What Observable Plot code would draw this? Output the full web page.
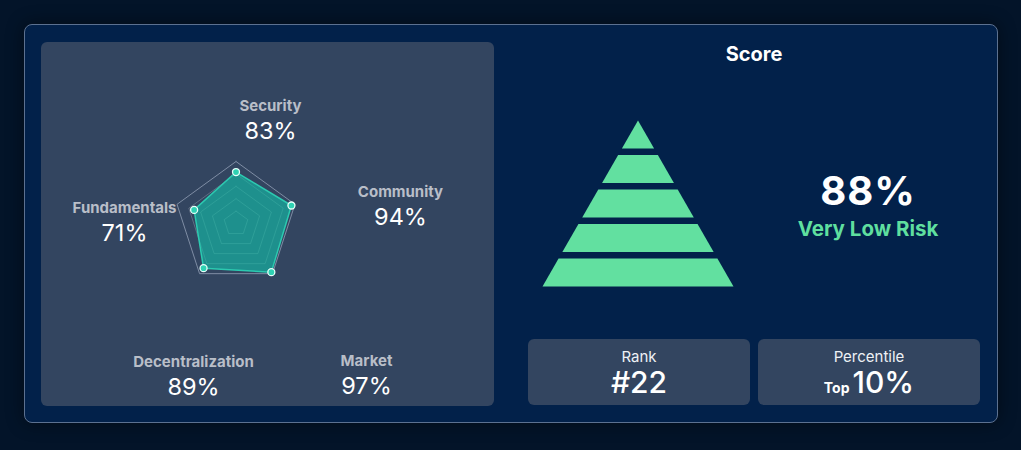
<!DOCTYPE html>
<html>
<head>
<meta charset="utf-8">
<script src="https://cdn.jsdelivr.net/npm/d3@7"></script>
<script src="https://cdn.jsdelivr.net/npm/@observablehq/plot@0.6"></script>
<style>
  html, body { margin: 0; padding: 0; }
  body { width: 1021px; height: 450px; background: #031429; position: relative; overflow: hidden; font-family: Inter, "Noto Sans", sans-serif; }
  .abs { position: absolute; }
  #card { left: 24px; top: 24px; width: 972px; height: 397px; background: #02214a; border: 1px solid #5c7190; border-radius: 8px; box-shadow: 0 0 18px rgba(0,0,0,0.45); }
  #leftPanel { left: 41px; top: 42px; width: 453px; height: 364px; background: #334560; border-radius: 6px; overflow: hidden; }
  .box { background: #334560; border-radius: 6px; width: 222px; height: 66px; top: 339px; color: #fff; text-align: center; }
  .boxLabel { position: absolute; left: 0; right: 0; top: 8px; font-size: 15px; color: #eef1f5; }
  .boxValue { position: absolute; left: 0; right: 0; top: 25px; font-size: 30px; font-weight: 500; color: #fff; }
  .boxValue small { font-size: 14px; font-weight: 700; margin-right: 3px; }
  #title { left: 654px; width: 200px; top: 42px; text-align: center; color: #fff; font-size: 20px; font-weight: 700; }
  #bigScore { left: 768px; width: 200px; top: 166px; text-align: center; color: #fff; font-size: 40px; font-weight: 700; letter-spacing: 1px; }
  #risk { left: 768px; width: 200px; top: 216px; text-align: center; color: #5fdf9f; font-size: 20.5px; font-weight: 700; }
</style>
</head>
<body>
<script>
// ---- data ----
const axes = ["Security", "Community", "Market", "Decentralization", "Fundamentals"];
const scores = [83, 94, 97, 89, 71];
const gridLevels = [20, 40, 60, 80, 100];
const overallScore = 88;
const riskLabel = "Very Low Risk";
const riskLayers = ["Very High", "High", "Medium", "Low", "Very Low"];
const rank = 22;
const percentileTop = 10;

// ---- layout ----
const card = document.createElement("div"); card.id = "card"; card.className = "abs"; document.body.appendChild(card);
const left = document.createElement("div"); left.id = "leftPanel"; left.className = "abs"; document.body.appendChild(left);

// radar (units: 1 = full radius)
const R = 62, PW = 453, PH = 364, cx = 194.5, cy = 181;
const labelAnchors = [[0.556, 1.694], [2.653, 0.31], [2.105, -2.42], [-0.685, -2.43], [-1.798, 0.05]];
const ang = i => (i * 72) * Math.PI / 180;
const grid = [];
gridLevels.forEach(l => {
  for (let k = 0; k <= axes.length; k++) {
    const i = k % axes.length;
    grid.push({level: l, x: l / 100 * Math.sin(ang(i)), y: l / 100 * Math.cos(ang(i))});
  }
});
const pts = axes.map((a, i) => ({axis: a, value: scores[i], x: scores[i] / 100 * Math.sin(ang(i)), y: scores[i] / 100 * Math.cos(ang(i))}));
const poly = [...pts, pts[0]];
const labels = axes.map((a, i) => ({axis: a, value: scores[i] + "%", x: labelAnchors[i][0], y: labelAnchors[i][1]}));

const radar = Plot.plot({
  width: PW, height: PH, margin: 0,
  x: {domain: [-cx / R, (PW - cx) / R], axis: null},
  y: {domain: [-(PH - cy) / R, cy / R], axis: null},
  style: {background: "transparent", fontFamily: "Inter, sans-serif", overflow: "visible"},
  marks: [
    Plot.line(grid.filter(d => d.level < 100), {x: "x", y: "y", z: "level", stroke: "#ffffff", strokeOpacity: 0.22, strokeWidth: 1}),
    Plot.line(grid.filter(d => d.level === 100), {x: "x", y: "y", z: "level", stroke: "#7f8da4", strokeWidth: 1}),
    Plot.line(poly, {x: "x", y: "y", fill: "#13b8a4", fillOpacity: 0.66, stroke: "#2cc9b0", strokeWidth: 1.5}),
    Plot.dot(pts, {x: "x", y: "y", r: 3.5, fill: "#2fd1b3", stroke: "#e8fffa", strokeWidth: 1.3}),
    Plot.text(labels, {x: "x", y: "y", text: "axis", dy: -12, fontSize: 15, fontWeight: 700, fill: "#b9bec8"}),
    Plot.text(labels, {x: "x", y: "y", text: "value", dy: 13, fontSize: 23.5, fill: "#ffffff"})
  ]
});
left.appendChild(radar);

// title
const title = document.createElement("div"); title.id = "title"; title.className = "abs"; title.textContent = "Score"; document.body.appendChild(title);

// pyramid
const n = riskLayers.length, layerH = 0.81, total = n - 1 + layerH;
const pyr = [];
riskLayers.forEach((name, i) => {
  const t = i, b = i + layerH;
  pyr.push({layer: name, y: t, x1: -t / total, x2: t / total});
  pyr.push({layer: name, y: b, x1: -b / total, x2: b / total});
});
const PYW = 200, PYH = 172, apexPad = 2.5, unit = 34.5, half = 95.5;
const pyramid = Plot.plot({
  width: PYW, height: PYH, margin: 0,
  x: {domain: [-(PYW / 2) / half, (PYW / 2) / half], axis: null},
  y: {domain: [(PYH - apexPad) / unit, -apexPad / unit], axis: null},
  style: {background: "transparent"},
  marks: [
    Plot.areaX(pyr, {y: "y", x1: "x1", x2: "x2", z: "layer", fill: "#62e0a0"})
  ]
});
const pyrWrap = document.createElement("div"); pyrWrap.className = "abs"; pyrWrap.style.left = "538px"; pyrWrap.style.top = "118px";
pyrWrap.appendChild(pyramid); document.body.appendChild(pyrWrap);

// big score
const big = document.createElement("div"); big.id = "bigScore"; big.className = "abs"; big.textContent = overallScore + "%"; document.body.appendChild(big);
const risk = document.createElement("div"); risk.id = "risk"; risk.className = "abs"; risk.textContent = riskLabel; document.body.appendChild(risk);

// boxes
function box(x, label, valueHtml) {
  const b = document.createElement("div"); b.className = "abs box"; b.style.left = x + "px";
  b.innerHTML = `<div class="boxLabel">${label}</div><div class="boxValue">${valueHtml}</div>`;
  document.body.appendChild(b);
}
box(528, "Rank", "#" + rank);
box(758, "Percentile", "<small>Top</small>" + percentileTop + "%");
</script>
</body>
</html>
